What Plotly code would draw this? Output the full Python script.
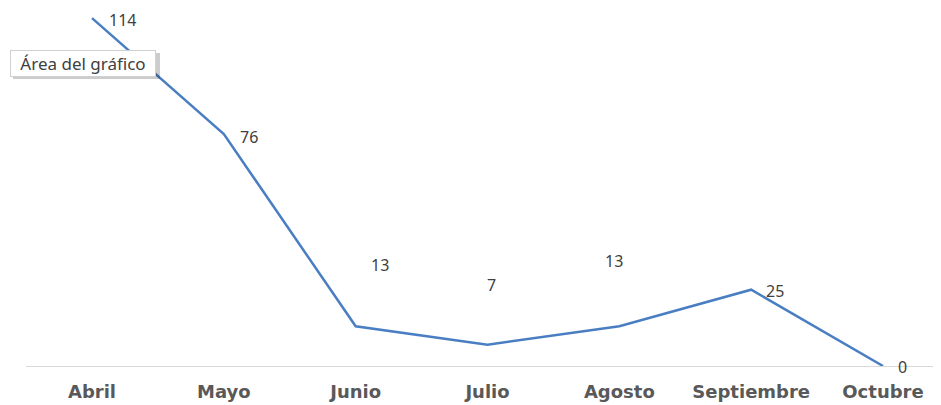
import plotly.graph_objects as go

months = ["Abril", "Mayo", "Junio", "Julio", "Agosto", "Septiembre", "Octubre"]
values = [114, 76, 13, 7, 13, 25, 0]

# label offsets in pixels (style only)
label_dx = [30, 25, 24, 4, -5, 24, 19]
label_dy = [-2, -3, 61, 60, 65, -1, -1]

# the page body has an 8px margin, so the figure is sized to the visible area
W, H = 933, 397
ML, MR, MT, MB = 18, 0, 0, 39

fig = go.Figure()
fig.add_trace(go.Scatter(
    x=months, y=values, mode="lines",
    line=dict(color="#4A7EC3", width=2.5),
    hoverinfo="skip", showlegend=False,
))

for m, v, dx, dy in zip(months, values, label_dx, label_dy):
    fig.add_annotation(
        x=m, y=v, xref="x", yref="y", text=str(v), showarrow=False,
        xshift=dx, yshift=dy, xanchor="center", yanchor="middle",
        font=dict(family="Noto Sans", size=16, color="#404040"),
    )

# "Área del gráfico" tooltip (pixel positions in figure coordinates)
pw = W - ML - MR
ph = H - MT - MB
def px_x(p):
    return (p - ML) / pw
def px_y(p):
    return 1 - (p - MT) / ph

fig.add_shape(type="rect", xref="paper", yref="paper",
              x0=px_x(5), x1=px_x(152), y0=px_y(71), y1=px_y(45),
              fillcolor="rgba(0,0,0,0.20)", line=dict(width=0), layer="above")
fig.add_annotation(
    x=px_x(2), y=px_y(42), xref="paper", yref="paper",
    xanchor="left", yanchor="top", showarrow=False,
    text="Área del gráfico",
    font=dict(family="Noto Sans", size=17, color="#404040"),
    bgcolor="white", bordercolor="#d0d0d0", borderwidth=1, borderpad=1,
    width=142, height=23, align="center",
)

fig.update_layout(
    width=W, height=H,
    margin=dict(l=ML, r=MR, t=MT, b=MB, pad=0, autoexpand=False),
    paper_bgcolor="white", plot_bgcolor="white",
    xaxis=dict(
        type="category", range=[-0.5008, 6.44], automargin=False,
        showline=True, linecolor="#d9d9d9", linewidth=1,
        showgrid=False, zeroline=False, ticks="",
        ticklabelstandoff=9,
        tickfont=dict(family="DejaVu Sans", size=18, color="#595959", weight="bold"),
    ),
    yaxis=dict(
        range=[0, 117.3], visible=False, showgrid=False, zeroline=False,
        automargin=False,
    ),
)

fig.write_html("out.html")
